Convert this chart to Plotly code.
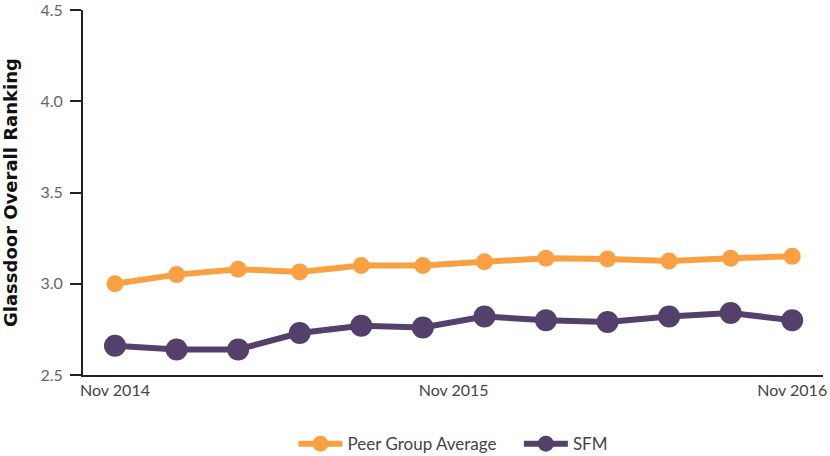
import plotly.graph_objects as go

x_index = list(range(12))
peer_group = [3.00, 3.05, 3.08, 3.065, 3.10, 3.10, 3.12, 3.14, 3.135, 3.125, 3.14, 3.15]
sfm = [2.66, 2.64, 2.64, 2.73, 2.77, 2.76, 2.82, 2.80, 2.79, 2.82, 2.84, 2.80]
tick_vals = [0, 5.5, 11]
tick_text = ["Nov 2014", "Nov 2015", "Nov 2016"]
y_ticks = [2.5, 3.0, 3.5, 4.0, 4.5]

FONT = "Lato, 'Noto Sans', sans-serif"
NB = "\u00a0"

fig = go.Figure()
fig.add_trace(go.Scatter(
    x=x_index, y=peer_group, name="Peer Group Average" + NB * 4, mode="lines+markers",
    line=dict(color="#F9A043", width=6), marker=dict(size=17, color="#F9A043")))
fig.add_trace(go.Scatter(
    x=x_index, y=sfm, name="SFM", mode="lines+markers",
    line=dict(color="#54416B", width=6), marker=dict(size=22, color="#54416B")))

fig.add_annotation(
    text="<b>Glassdoor Overall Ranking</b>", xref="paper", yref="paper",
    x=-0.098, y=0.5, xanchor="center", yanchor="middle", textangle=-90,
    showarrow=False, font=dict(family="'DejaVu Sans', sans-serif", size=18, color="#111111"))

fig.update_layout(
    width=830, height=456, autosize=False,
    margin=dict(l=83, r=7, t=10, b=81),
    paper_bgcolor="white", plot_bgcolor="white",
    font=dict(family=FONT, color="#555555", size=15),
    showlegend=True,
    legend=dict(orientation="h", x=0.5, xanchor="center", yref="container", y=0.026, yanchor="middle",
                font=dict(size=17, color="#444444"), itemwidth=44),
    xaxis=dict(range=[-0.52, 11.5], tickvals=tick_vals, ticktext=tick_text,
               showgrid=False, zeroline=False, showline=True, linecolor="#222222",
               linewidth=2, ticks="", automargin=False,
               tickfont=dict(size=16, color="#444444")),
    yaxis=dict(range=[2.4999, 4.5001], tickvals=y_ticks, ticktext=[f"{v:.1f}" for v in y_ticks],
               showgrid=False, zeroline=False, showline=True, linecolor="#222222",
               linewidth=2, ticks="outside", ticklen=11, tickwidth=2, tickcolor="#222222",
               automargin=False, ticklabelstandoff=4, ticklabeloverflow="allow",
               tickfont=dict(size=16, color="#666666")),
)

fig.write_html("out.html", config={"responsive": False, "displayModeBar": False},
               post_script="document.body.style.margin='0px';")
